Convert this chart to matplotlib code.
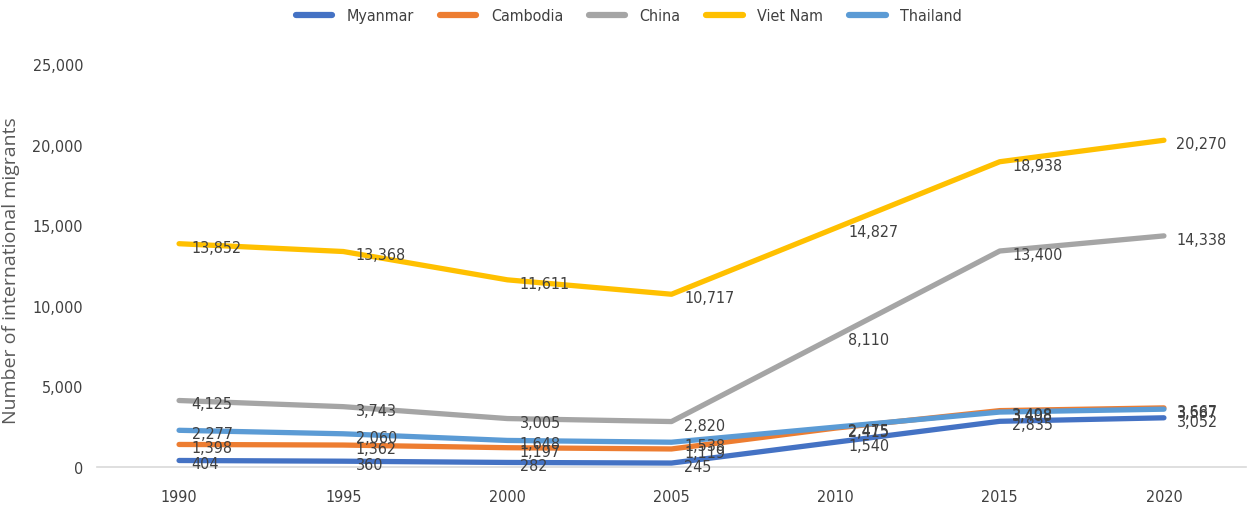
import matplotlib
matplotlib.use("Agg")
import matplotlib.pyplot as plt
from matplotlib import font_manager as fm

years = ["1990", "1995", "2000", "2005", "2010", "2015", "2020"]
series_names = ["Myanmar", "Cambodia", "China", "Viet Nam", "Thailand"]
myanmar = [404, 360, 282, 245, 1540, 2835, 3052]
cambodia = [1398, 1362, 1197, 1119, 2415, 3498, 3667]
china = [4125, 3743, 3005, 2820, 8110, 13400, 14338]
viet_nam = [13852, 13368, 11611, 10717, 14827, 18938, 20270]
thailand = [2277, 2060, 1648, 1538, 2475, 3408, 3587]
colors = ["#4472C4", "#ED7D31", "#A5A5A5", "#FFC000", "#5B9BD5"]
yticks = [0, 5000, 10000, 15000, 20000, 25000]

data = [myanmar, cambodia, china, viet_nam, thailand]

fp_lab = fm.FontProperties(family=['DejaVu Sans'], stretch='condensed', size=11.5)
fp_tick = fm.FontProperties(family=['DejaVu Sans'], stretch='condensed', size=11.5)
fp_leg = fm.FontProperties(family=['DejaVu Sans'], stretch='condensed', size=11.5)

fig = plt.figure(figsize=(12.5, 5.1), dpi=100)
ax = fig.add_axes([97/1250, 42/510, (1246-97)/1250, (468-65)/510])

x = list(range(len(years)))
for name, vals, c in zip(series_names, data, colors):
    ax.plot(x, vals, color=c, lw=3.8, solid_capstyle='round', label=name, zorder=2)

for vals in data:
    for xi, v in zip(x, vals):
        ax.annotate(f"{v:,}", (xi, v), xytext=(9, -2.5), textcoords='offset points',
                    ha='left', va='center', fontproperties=fp_lab, color='#404040', zorder=5)

ax.set_xlim(-0.5, 6.5)
ax.set_ylim(0, 25000)
ax.set_xticks(x)
ax.set_xticklabels(years, fontproperties=fp_tick)
ax.set_yticks(yticks)
ax.set_yticklabels([f"{v:,}" for v in yticks], fontproperties=fp_tick)
ax.tick_params(axis='both', length=0, labelcolor='#404040')
ax.tick_params(axis='y', pad=10)
ax.tick_params(axis='x', pad=16)
for s in ['top', 'right', 'left']:
    ax.spines[s].set_visible(False)
ax.spines['bottom'].set_color('#D9D9D9')
ax.spines['bottom'].set_linewidth(1.2)

ax.set_ylabel("Number of international migrants", fontsize=14, color='#595959',
              family=['Open Sans', 'DejaVu Sans'])
ax.yaxis.set_label_coords((20 - 97) / 1149, 0.49)

leg = fig.legend(loc='upper center', bbox_to_anchor=(0.503, 1.01), ncol=5, frameon=False,
                 prop=fp_leg, handlelength=2.3, columnspacing=1.6, handletextpad=0.9)
for t in leg.get_texts():
    t.set_color('#404040')
for h in leg.get_lines():
    h.set_linewidth(4.5)

fig.savefig("out.png", dpi=100)
